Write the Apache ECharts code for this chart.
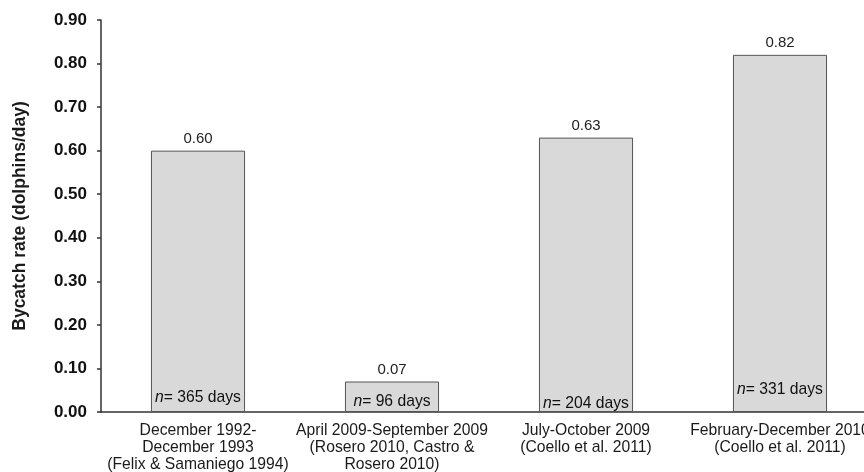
<!DOCTYPE html>
<html>
<head>
<meta charset="utf-8">
<script src="https://cdn.jsdelivr.net/npm/echarts@6/dist/echarts.min.js"></script>
<style>html,body{margin:0;padding:0;background:#fff}#c{width:864px;height:472px}</style>
</head>
<body>
<div id="c"></div>
<script>
var categories = [
  'December 1992-\nDecember 1993\n(Felix & Samaniego 1994)',
  'April 2009-September 2009\n(Rosero 2010, Castro &\nRosero 2010)',
  'July-October 2009\n(Coello et al. 2011)',
  'February-December 2010\n(Coello et al. 2011)'
];
var rates = [0.60, 0.07, 0.63, 0.82];
var nDays = [365, 96, 204, 331];
var yTicks = { min: 0, max: 0.9, interval: 0.1 };

// style: label distance from bar bottom for each n-label
var nLabelLift = [6, 2, 0, 14];

var FONT = "'Liberation Sans', Arial, sans-serif";
var chart = echarts.init(document.getElementById('c'), null, { renderer: 'canvas' });
chart.setOption({
  animation: false,
  grid: { left: 101, right: -13, top: 20, bottom: 60, outerBoundsMode: 'none', containLabel: false },
  xAxis: {
    type: 'category',
    data: categories,
    axisLine: { lineStyle: { color: '#333', width: 1.5 } },
    axisTick: { show: false },
    axisLabel: {
      interval: 0, margin: 10, color: '#1a1a1a', fontFamily: FONT, fontSize: 15.7,
      lineHeight: 17
    }
  },
  yAxis: {
    type: 'value',
    min: yTicks.min, max: yTicks.max, interval: yTicks.interval,
    name: 'Bycatch rate (dolphins/day)',
    nameLocation: 'middle',
    nameGap: 72,
    nameTextStyle: { color: '#1a1a1a', fontFamily: FONT, fontSize: 17.5, fontWeight: 'bold' },
    axisLine: { show: true, lineStyle: { color: '#333', width: 1.5 } },
    axisTick: { show: true, inside: false, length: 4, lineStyle: { color: '#333', width: 1.5 } },
    splitLine: { show: false },
    axisLabel: {
      margin: 14, color: '#111', fontFamily: FONT, fontSize: 17, fontWeight: 'bold',
      formatter: function (v) { return v.toFixed(2); }
    }
  },
  series: [
    {
      type: 'bar',
      data: rates,
      barWidth: '48.5%',
      itemStyle: { color: '#d9d9d9', borderColor: '#555', borderWidth: 1 },
      label: {
        show: true, position: 'top', distance: 4, color: '#222',
        fontFamily: FONT, fontSize: 15,
        formatter: function (p) { return p.value.toFixed(2); }
      },
      z: 2
    },
    {
      type: 'bar',
      barGap: '-100%',
      barWidth: '48.5%',
      data: rates.map(function (v, i) {
        return { value: v, label: { distance: nLabelLift[i] } };
      }),
      itemStyle: { color: 'rgba(0,0,0,0)', borderWidth: 0 },
      label: {
        show: true, position: 'insideBottom', color: '#111',
        fontFamily: FONT, fontSize: 15.7,
        formatter: function (p) { return '{i|n}= ' + nDays[p.dataIndex] + ' days'; },
        rich: { i: { fontStyle: 'italic', fontFamily: FONT, fontSize: 15.7, color: '#111' } }
      },
      silent: true,
      z: 3
    }
  ]
});
</script>
</body>
</html>
